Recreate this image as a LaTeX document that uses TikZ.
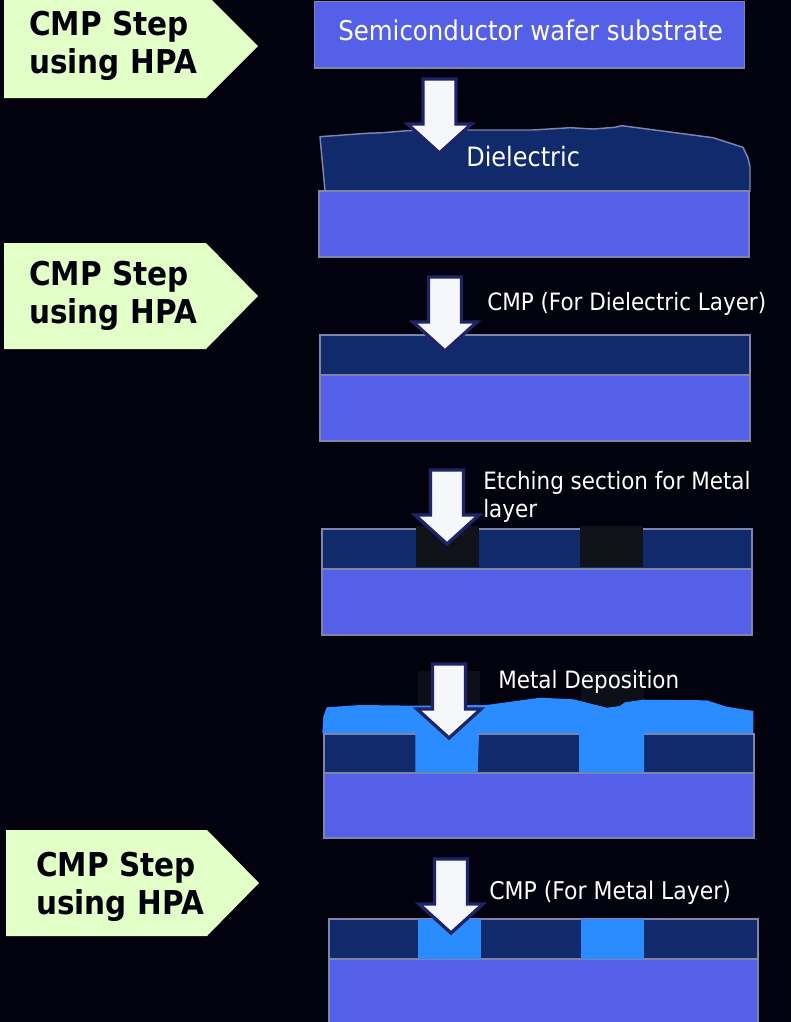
\documentclass[tikz,border=0pt]{standalone}
\usepackage{fontspec}
\setmainfont[FakeStretch=0.9]{DejaVu Sans}
\definecolor{bgc}{HTML}{02020F}
\definecolor{subc}{HTML}{5560E8}
\definecolor{dielc}{HTML}{102A6C}
\definecolor{edgec}{HTML}{7E84AA}
\definecolor{metalc}{HTML}{2B8CFF}
\definecolor{etchc}{HTML}{10121A}
\definecolor{faintc}{HTML}{0D0F18}
\definecolor{tagc}{HTML}{E2FFC8}
\definecolor{arrowc}{HTML}{F5F7FB}
\definecolor{arrowe}{HTML}{1F2466}
\tikzset{
 subbox/.style={fill=subc,draw=edgec,line width=1.1pt},
 dielbox/.style={fill=dielc,draw=edgec,line width=1.1pt},
 tagbox/.style={fill=tagc,draw=none},
 tagtext/.style={anchor=west,align=left,text=bgc,font=\fontsize{24.6}{28.5}\selectfont\bfseries,inner sep=0pt},
 lab/.style={anchor=west,align=left,text=white,font=\fontsize{17.9}{21}\selectfont,inner sep=0pt},
 biglab/.style={lab,font=\fontsize{20.4}{23}\selectfont},
 diellab/.style={lab,font=\fontsize{20}{23}\selectfont},
 metallab/.style={lab,font=\fontsize{18.3}{21}\selectfont},
 pressarrow/.pic={\draw[fill=arrowc,draw=arrowe,line width=2.5pt,miter limit=10]
   (-16.5,2)--(16.5,2)--(16.5,47)--(32,47)--(0,76)--(-32,47)--(-16.5,47)--cycle;}
}
\begin{document}
\begin{tikzpicture}[x=0.75pt,y=-0.75pt]
\useasboundingbox (0,0) rectangle (791,1022);
\fill[bgc] (0,0) rectangle (791,1022);
% tags
\fill[tagbox] (4,-6)--(206,-6)--(258,46)--(206,98)--(4,98)--cycle;
\fill[tagbox] (4,243)--(206,243)--(258,296)--(206,349)--(4,349)--cycle;
\fill[tagbox] (6,830)--(207,830)--(259,883)--(207,936)--(6,936)--cycle;
\node[tagtext] (t1) at (29,46) {CMP Step\\using HPA};
\node[tagtext] (t2) at (29,296) {CMP Step\\using HPA};
\node[tagtext] (t3) at (36,887) {CMP Step\\using HPA};
% stage 1
\draw[subbox] (314.5,1.5) rectangle (744.5,68);
% stage 2
\draw[dielbox,line join=round] (320,136.7)--(366.7,133.3)--(383,132.7)--(406.7,130.7)--(466.7,130)--(533,130)--(570,127.7)--(593,129)--(615,127.3)--(621.7,125.7)--(660,130.7)--(713,137.7)--(743,147.3)--(748,158)--(750,166.7)--(750,191.7)--(325,191)--cycle;
\draw[subbox] (319,191) rectangle (749,257);
% stage 3
\draw[dielbox] (320,335) rectangle (750,375);
\draw[subbox] (320,375) rectangle (750,441);
% stage 4
\draw[dielbox] (322,529) rectangle (752,569);
\draw[subbox] (322,569) rectangle (752,635);
\fill[etchc] (416,526) rectangle (479,567);
\fill[etchc] (580,526) rectangle (643,567);
% stage 5
\fill[faintc] (417.7,671) rectangle (480.3,710);
\fill[faintc] (581,671) rectangle (644,710);
\draw[dielbox] (324,734) rectangle (754,773);
\draw[subbox] (324,773) rectangle (754,838);
\fill[metalc] (322.3,733)--(323.3,716.7)--(326.7,707.3)--(360,705)--(416.7,705.7)--(486.7,705)--(540,697.7)--(573.3,699.3)--(606.7,707.7)--(620,706)--(625,702.3)--(643,699.7)--(706.7,700.3)--(726.7,706.7)--(753.3,711)--(753.3,733)--(644,733)--(644,772.3)--(579,772.3)--(579,733)--(479,733)--(477.7,772.3)--(415.3,772.3)--(415.3,733)--cycle;
% stage 6
\draw[dielbox] (329,919) rectangle (758,959);
\draw[subbox] (329,959) rectangle (758,1030);
\fill[metalc] (418,919) rectangle (481,959);
\fill[metalc] (581,919) rectangle (644,959);
% arrows
\pic at (439.5,77) {pressarrow};
\pic at (445,275) {pressarrow};
\pic at (447,468) {pressarrow};
\pic at (449,662) {pressarrow};
\pic at (451,857) {pressarrow};
% labels
\node[biglab] (l1) at (338,30) {Semiconductor wafer substrate};
\node[diellab] (l2) at (466,157) {Dielectric};
\node[lab] (l3) at (487,304) {CMP (For Dielectric Layer)};
\node[lab] (l4) at (483,497) {Etching section for Metal\\layer};
\node[lab] (l5) at (498,682) {Metal Deposition};
\node[metallab] (l6) at (489,893) {CMP (For Metal Layer)};
\end{tikzpicture}
\end{document}
